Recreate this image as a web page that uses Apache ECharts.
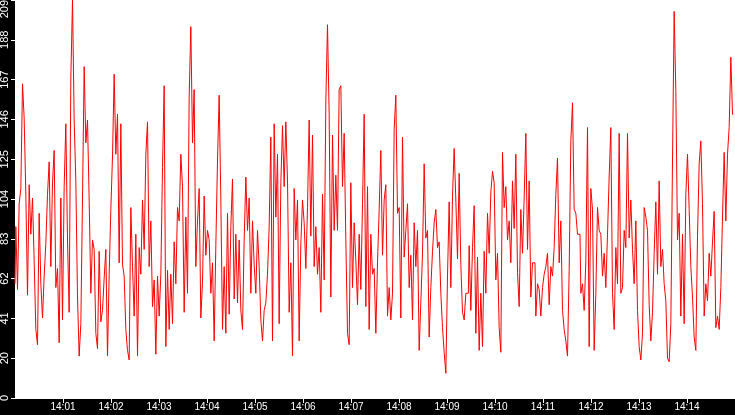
<!DOCTYPE html>
<html>
<head>
<meta charset="utf-8">
<script src="https://cdn.jsdelivr.net/npm/echarts@6/dist/echarts.min.js"></script>
<style>
  html, body { margin: 0; padding: 0; background: #000; }
  #chart { width: 735px; height: 415px; }
</style>
</head>
<body>
<div id="chart"></div>
<script>
// samples, 72 per 2.5 minute block, 14:00:00 -> 14:15:00
var block1 = [60,90,57,102,110,165,147,107,54,112,86,105,72,36,28,97,60,42,64,81,107,124,69,113,130,58,68,29,105,41,111,144,83,45,168,209,146,114,53,22,39,105,174,134,146,104,55,83,78,34,26,77,40,46,63,78,22,65,99,127,170,128,149,71,144,70,64,36,25,20,100,69];
var block2 = [43,86,22,79,65,104,78,128,145,69,93,48,62,23,64,43,65,121,164,27,67,36,65,39,82,60,100,93,128,111,45,95,55,158,195,134,162,69,93,110,42,61,106,75,88,83,55,71,30,80,125,159,104,36,69,34,97,44,90,115,52,86,50,83,46,36,83,116,88,105,55,93];
var block3 = [70,55,88,69,41,30,46,50,65,90,137,30,144,95,128,39,113,143,111,145,114,45,71,22,110,83,104,30,81,104,92,68,100,146,85,138,69,90,65,79,45,107,62,156,196,149,53,138,88,117,88,162,164,111,139,83,34,28,113,58,92,72,49,86,57,102,149,48,111,36,86,65];
var block4 = [68,34,71,99,130,75,104,112,43,58,41,55,141,159,97,100,42,137,74,88,102,58,75,41,92,69,88,25,50,76,123,84,88,32,58,77,92,99,79,82,55,37,24,13,64,103,58,106,131,104,73,118,70,45,41,55,55,80,46,79,101,34,74,25,55,27,77,55,97,76,108,119];
var block5 = [113,62,76,37,24,129,100,111,83,93,71,114,89,128,66,48,99,76,105,139,78,114,53,71,71,43,60,57,43,58,65,69,76,49,69,64,79,107,126,71,93,46,36,30,22,67,135,155,99,97,86,86,55,60,46,72,142,27,110,99,25,55,100,88,86,64,76,58,86,116,142,55];
var block6 = [36,79,60,139,55,58,88,79,139,84,104,78,60,93,46,27,20,34,100,95,88,49,30,45,76,103,65,114,69,78,60,51,21,19,39,125,203,161,83,97,43,86,39,107,128,99,69,53,32,25,85,123,135,102,43,60,51,76,64,82,98,37,43,36,58,95,129,93,128,142,179,149];

var yMax = 209;
var spanSeconds = 900;   // 14:00 .. 14:15

var values = block1.concat(block2, block3, block4, block5, block6);
var step = spanSeconds / values.length;
var seriesData = values.map(function (v, i) { return [i * step, v]; });

var myChart = echarts.init(document.getElementById('chart'));

function pad(n) { return n < 10 ? '0' + n : '' + n; }

option = {
    animation: false,
    backgroundColor: '#000',
    grid: {
        left: 15, right: 0, top: 0, bottom: 17,
        outerBoundsMode: 'none',
        containLabel: false,
        show: true,
        backgroundColor: '#fff',
        borderWidth: 0
    },
    xAxis: {
        type: 'value',
        min: 0,
        max: spanSeconds,
        interval: 60,
        axisLine: { lineStyle: { color: '#fff', width: 1 } },
        axisTick: { length: 5, lineStyle: { color: '#fff' } },
        splitLine: { show: false },
        axisLabel: {
            color: '#fff',
            fontFamily: 'Liberation Sans',
            fontSize: 10,
            margin: 4,
            showMinLabel: false,
            showMaxLabel: false,
            formatter: function (s) { return '14:' + pad(Math.round(s / 60)); }
        }
    },
    yAxis: {
        type: 'value',
        min: 0,
        max: yMax,
        interval: yMax / 10,
        axisLine: { show: true, lineStyle: { color: '#fff', width: 1 } },
        axisTick: { show: true, length: 4, lineStyle: { color: '#fff' } },
        splitLine: { show: false },
        axisLabel: {
            color: '#fff',
            fontFamily: 'Liberation Sans',
            fontSize: 11,
            rotate: 90,
            margin: 5,
            alignMaxLabel: 'right',
            formatter: function (v) { return Math.floor(v + 1e-6); }
        }
    },
    series: [
        {
            type: 'line',
            data: seriesData,
            symbol: 'none',
            step: 'middle',
            lineStyle: { color: '#ff0000', width: 1 },
            clip: true
        }
    ]
};

myChart.setOption(option);
</script>
</body>
</html>
